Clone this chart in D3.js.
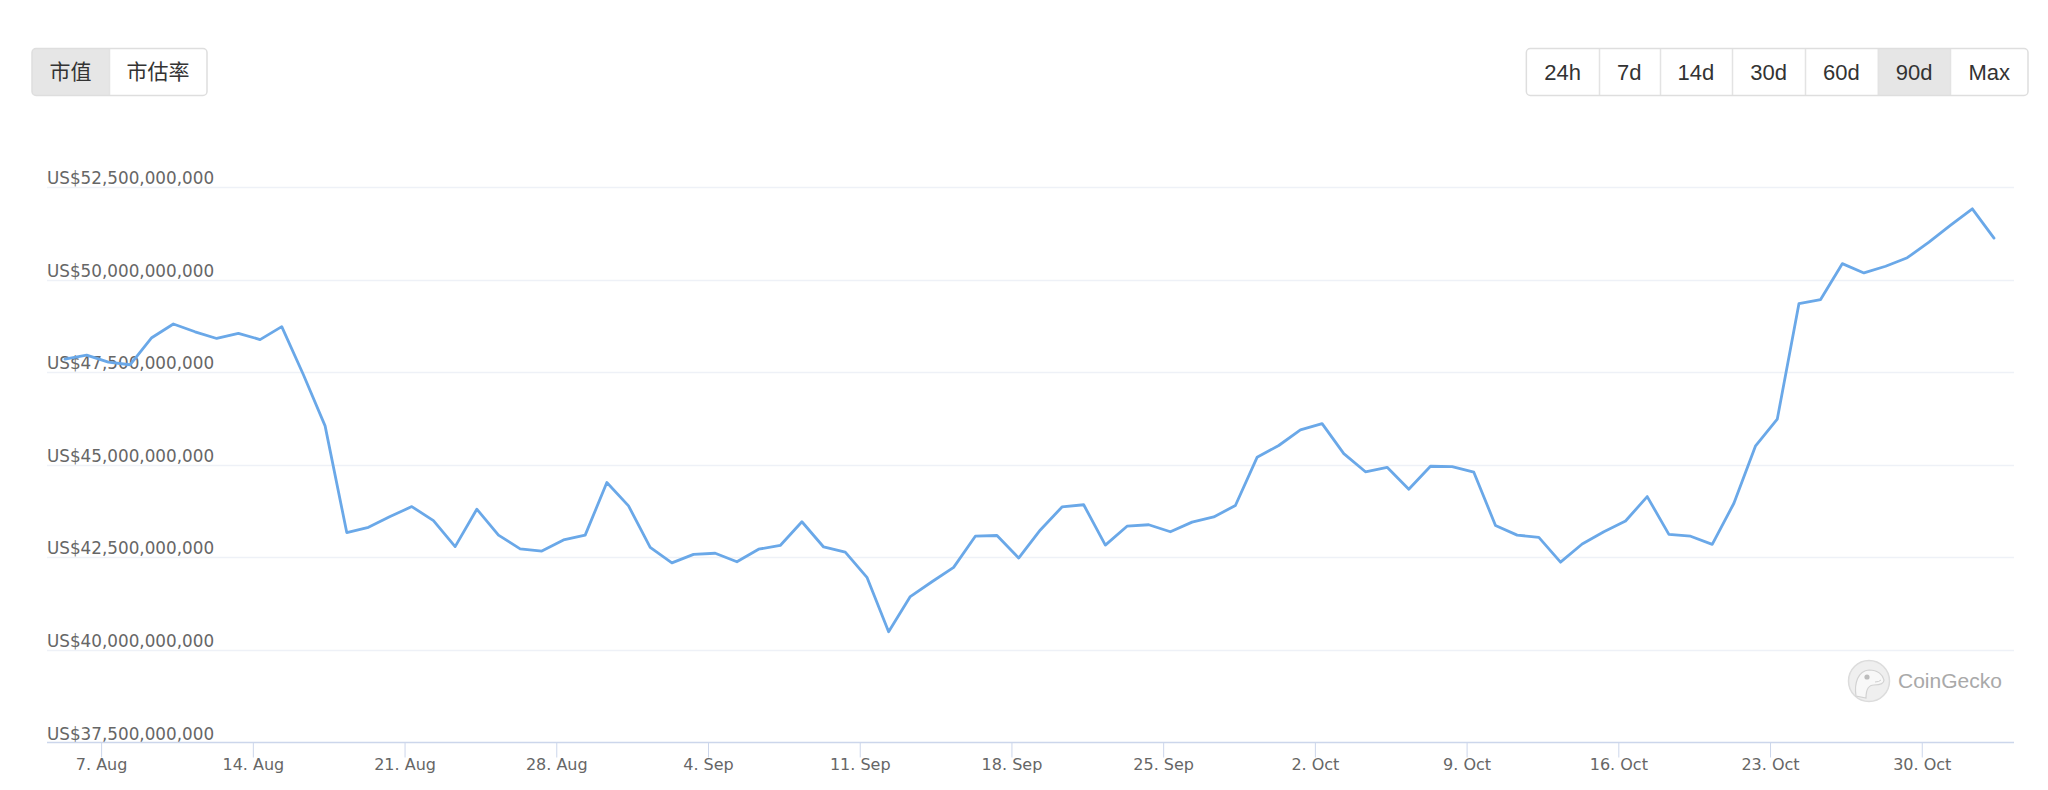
<!doctype html>
<html>
<head>
<meta charset="UTF-8" />
<script src="https://cdn.jsdelivr.net/npm/d3@7"></script>
<style>
  body { margin: 0; background: #fff; }
  svg { display: block; }
</style>
</head>
<body>
<svg id="chart" width="2048" height="790"></svg>
<script>
// first sample is 5 Aug, one point per day after that
const startDate = Date.UTC(2023, 7, 5, 8);

// market cap in billions of US$
const marketCap = [
  47.85, 47.96, 47.77, 47.70, 48.43, 48.80, 48.59, 48.41, 48.55, 48.38,
  48.73, 47.43, 46.05, 43.17, 43.31, 43.60, 43.87, 43.49, 42.79, 43.80,
  43.10, 42.73, 42.67, 42.97, 43.10, 44.52, 43.89, 42.77, 42.35, 42.58,
  42.61, 42.38, 42.72, 42.82, 43.46, 42.78, 42.64, 41.96, 40.49, 41.44,
  41.84, 42.23, 43.07, 43.09, 42.48, 43.24, 43.86, 43.92, 42.83, 43.34,
  43.38, 43.19, 43.45, 43.59, 43.90, 45.20, 45.52, 45.94, 46.11, 45.30,
  44.81, 44.93, 44.34, 44.96, 44.95, 44.80, 43.36, 43.10, 43.04, 42.37,
  42.86, 43.19, 43.48, 44.14, 43.12, 43.07, 42.85, 43.96, 45.51, 46.23,
  49.35, 49.46, 50.43, 50.18, 50.36, 50.59, 51.01, 51.47, 51.91, 51.12
];

const yTicks = [37.5, 40, 42.5, 45, 47.5, 50, 52.5];
const typeButtons = ["市值", "市估率"];
const rangeButtons = ["24h", "7d", "14d", "30d", "60d", "90d", "Max"];

const data = marketCap.map((v, i) => ({ date: new Date(startDate + i * 864e5), value: v * 1e9 }));

const svg = d3.select("#chart");
const plotLeft = 47, plotRight = 2014;

const x = d3.scaleUtc()
  .domain(d3.extent(data, d => d.date))
  .range([65, 1994]);

const y = d3.scaleLinear()
  .domain([37.5e9, 52.5e9])
  .range([742.5, 187]);

// gridlines + y labels
const grid = svg.append("g");
yTicks.forEach(function (t) {
  const yy = Math.round(y(t * 1e9)) + 0.5;
  if (t > yTicks[0]) {
    grid.append("line")
      .attr("x1", plotLeft).attr("x2", plotRight)
      .attr("y1", yy).attr("y2", yy)
      .attr("stroke", "#eef1f7").attr("stroke-width", 1.5);
  }
  grid.append("text")
    .attr("x", plotLeft)
    .attr("y", yy - 4)
    .attr("font-family", "DejaVu Sans, sans-serif")
    .attr("font-size", 16.8)
    .attr("fill", "#666")
    .text("US$" + d3.format(",")(t * 1e9));
});

// x axis
const xAxis = d3.axisBottom(x)
  .ticks(d3.utcMonday.every(1))
  .tickFormat(d3.utcFormat("%-d. %b"))
  .tickSize(15);

const gx = svg.append("g")
  .attr("transform", "translate(0,742.5)")
  .call(xAxis);
gx.select(".domain").remove();
gx.selectAll(".tick line").attr("stroke", "#ccd6eb");
gx.selectAll(".tick text")
  .attr("y", 27.5).attr("dy", 0)
  .attr("font-family", "DejaVu Sans, sans-serif")
  .attr("font-size", 16)
  .attr("fill", "#666");
svg.append("line")
  .attr("x1", plotLeft).attr("x2", plotRight)
  .attr("y1", 742.5).attr("y2", 742.5)
  .attr("stroke", "#ccd6eb").attr("stroke-width", 1.5);

// the line
const line = d3.line()
  .x(d => x(d.date))
  .y(d => y(d.value));

svg.append("path")
  .datum(data)
  .attr("d", line)
  .attr("fill", "none")
  .attr("stroke", "#6aa8e8")
  .attr("stroke-width", 2.8)
  .attr("stroke-linejoin", "round")
  .attr("stroke-linecap", "round");

// watermark
const logo = svg.append("g").attr("transform", "translate(1869,681)");
logo.append("circle").attr("r", 20.5)
  .attr("fill", "#efefef").attr("stroke", "#dcdcdc").attr("stroke-width", 1.5);
logo.append("path")
  .attr("d", "M -13 15 C -15 2 -11 -10 0 -11 C 9 -11 14 -6 15 -1 C 15 3 10 4 5 4 C 0 4 -3 8 -3 17 Z")
  .attr("fill", "#f8f8f8").attr("stroke", "#d2d2d2").attr("stroke-width", 1.2);
logo.append("circle").attr("cx", -2).attr("cy", -4).attr("r", 2.6).attr("fill", "#bdbdbd");
logo.append("path").attr("d", "M 6 1 Q 10 1 12 -1")
  .attr("fill", "none").attr("stroke", "#cfcfcf").attr("stroke-width", 1);
svg.append("text")
  .attr("x", 1898).attr("y", 681).attr("dy", "0.35em")
  .attr("font-family", "Liberation Sans, Arial, sans-serif")
  .attr("font-size", 21)
  .attr("fill", "#a9a9a9")
  .text("CoinGecko");

// button groups
let clipId = 0;
function drawButtons(labels, selected, edgeX, alignRight, font, size, pad) {
  const top = 48.5, h = 47;
  const g = svg.append("g");
  const items = g.selectAll("g.btn").data(labels).join("g").attr("class", "btn");
  const bg = items.append("rect");
  const txt = items.append("text")
    .text(d => d)
    .attr("y", top + h / 2)
    .attr("dy", "0.35em")
    .attr("text-anchor", "middle")
    .attr("font-family", font)
    .attr("font-size", size)
    .attr("fill", "#333");

  const widths = txt.nodes().map(n => n.getComputedTextLength() + pad * 2);
  const total = d3.sum(widths);
  const x0 = alignRight ? edgeX - total : edgeX;
  const offs = widths.map((w, i) => x0 + d3.sum(widths.slice(0, i)));

  const id = "clip" + (clipId++);
  g.append("clipPath").attr("id", id)
    .append("rect").attr("x", x0).attr("y", top).attr("width", total).attr("height", h).attr("rx", 4);
  items.attr("clip-path", "url(#" + id + ")");

  bg.attr("x", (d, i) => offs[i]).attr("y", top)
    .attr("width", (d, i) => widths[i]).attr("height", h)
    .attr("fill", d => d === selected ? "#e6e6e6" : "#fff");
  txt.attr("x", (d, i) => offs[i] + widths[i] / 2);

  offs.slice(1).forEach(function (o) {
    g.append("line")
      .attr("x1", Math.round(o) + 0.5).attr("x2", Math.round(o) + 0.5)
      .attr("y1", top).attr("y2", top + h)
      .attr("stroke", "#e3e3e3").attr("stroke-width", 1.5);
  });
  g.append("rect")
    .attr("x", x0).attr("y", top).attr("width", total).attr("height", h).attr("rx", 4)
    .attr("fill", "none").attr("stroke", "#dedede").attr("stroke-width", 1.5);
}

drawButtons(typeButtons, "市值", 32, false, "Noto Sans CJK SC, sans-serif", 21, 17.5);
drawButtons(rangeButtons, "90d", 2028, true, "Liberation Sans, Arial, sans-serif", 22, 18);
</script>
</body>
</html>
